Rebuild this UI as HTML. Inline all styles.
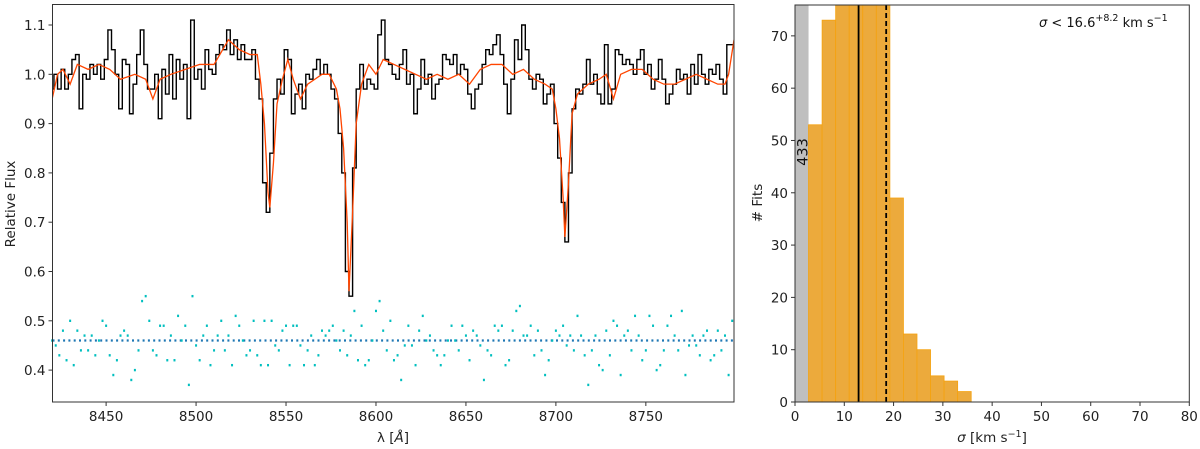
<!DOCTYPE html>
<html><head><meta charset="utf-8"><style>
body{margin:0;background:#fff;}
svg{display:block;font-family:"DejaVu Sans","Liberation Sans",sans-serif;}
</style></head><body>
<svg id="c" width="1200" height="449" viewBox="0 0 1200 449"></svg>
<script>
// ---- spectrum data (2 Å bins from 8420) ----
const specStart = 8420, specStep = 2;
const fluxValues = [0.97,1.0,0.97,1.01,0.97,1.0,1.03,1.04,0.93,1.0,
0.99,1.02,1.0,1.02,0.99,1.03,1.09,1.05,1.0,0.93,
1.03,1.02,0.92,0.98,1.04,1.09,1.02,0.97,0.97,1.0,
0.91,1.01,0.96,1.04,0.95,1.03,0.99,1.02,0.91,1.11,
0.99,1.01,0.97,1.05,1.01,1.0,1.04,1.06,1.05,1.09,
1.04,1.07,1.03,1.06,1.03,1.03,1.05,0.99,0.95,0.78,
0.72,0.84,0.95,0.99,0.96,1.05,1.03,0.92,0.96,0.98,
0.93,1.0,0.99,1.01,1.03,1.0,1.02,1.0,0.97,0.95,
0.88,0.80,0.60,0.55,0.81,0.97,1.02,0.97,0.99,0.98,
0.97,1.08,1.11,1.03,1.02,1.0,0.99,1.02,1.05,0.98,
1.0,0.92,0.97,1.03,0.98,1.0,0.95,0.98,0.99,1.04,
1.03,1.02,1.04,1.0,1.02,1.01,0.96,0.93,0.97,0.98,
1.02,1.05,1.04,1.06,1.08,1.04,0.98,0.92,0.99,1.07,
1.03,1.1,1.05,0.99,0.97,1.0,0.99,0.94,0.96,0.98,
0.90,0.83,0.74,0.66,0.80,0.93,0.97,0.96,0.98,1.03,
0.98,1.0,0.96,0.94,1.06,0.94,0.97,1.05,1.04,1.02,
1.03,1.02,1.0,1.03,1.05,1.0,1.02,0.97,0.99,1.03,
0.99,0.94,0.96,0.98,1.01,0.99,1.0,0.96,1.02,0.98,
1.04,1.0,0.98,1.01,1.0,1.02,0.99,0.96,1.06,1.06];
const modelWave = [8420,8423,8426,8430,8434,8440,8446,8452,8458,8466,8472,8476,8480,8486,8494,8502,8510,8518,8524,8530,8534,8536,8538,8540,8541,8543,8545,8548,8551,8554,8558,8562,8566,8570,8574,8578,8580,8582,8584,8585,8587,8589,8592,8596,8600,8604,8610,8616,8622,8628,8634,8640,8646,8652,8658,8664,8670,8676,8682,8688,8694,8698,8700,8702,8704,8705,8707,8709,8712,8718,8724,8728,8732,8736,8742,8748,8754,8760,8766,8772,8778,8784,8790,8794,8796,8799];
const modelFlux = [0.95,1.0,1.01,0.98,1.02,1.01,1.02,1.01,0.99,1.0,0.99,0.95,0.99,1.0,1.01,1.02,1.02,1.07,1.05,1.04,1.04,0.98,0.9,0.76,0.73,0.82,0.94,0.99,1.03,0.99,0.95,0.98,0.99,1.0,1.0,0.97,0.93,0.85,0.7,0.56,0.72,0.9,0.98,1.02,1.0,1.03,1.02,1.01,1.0,0.99,1.0,0.99,1.0,0.98,1.01,1.02,1.02,1.0,1.01,0.99,0.98,0.97,0.93,0.87,0.75,0.67,0.78,0.92,0.96,0.98,0.99,1.0,0.95,1.0,1.01,1.01,0.99,0.98,0.98,0.99,1.0,0.99,0.98,0.98,1.0,1.07];
const residValues = [0.46,0.45,0.43,0.48,0.42,0.50,0.41,0.48,0.44,0.47,
0.44,0.47,0.43,0.46,0.50,0.49,0.43,0.39,0.42,0.47,
0.48,0.47,0.38,0.40,0.44,0.54,0.55,0.50,0.44,0.43,
0.49,0.49,0.42,0.47,0.42,0.51,0.46,0.49,0.37,0.55,
0.45,0.42,0.47,0.49,0.41,0.44,0.47,0.50,0.44,0.47,
0.41,0.51,0.49,0.46,0.43,0.44,0.50,0.43,0.41,0.50,
0.41,0.50,0.45,0.44,0.48,0.49,0.41,0.49,0.49,0.45,
0.41,0.44,0.47,0.41,0.43,0.48,0.47,0.48,0.49,0.46,
0.44,0.48,0.43,0.47,0.52,0.42,0.49,0.41,0.42,0.46,
0.52,0.54,0.48,0.44,0.50,0.42,0.43,0.38,0.45,0.49,
0.45,0.41,0.48,0.51,0.46,0.47,0.44,0.43,0.41,0.43,
0.46,0.49,0.46,0.44,0.49,0.47,0.42,0.48,0.47,0.45,
0.38,0.44,0.43,0.49,0.48,0.49,0.41,0.42,0.48,0.52,
0.53,0.47,0.47,0.49,0.43,0.48,0.44,0.39,0.42,0.46,
0.48,0.47,0.49,0.45,0.47,0.44,0.51,0.47,0.43,0.37,
0.44,0.47,0.41,0.40,0.48,0.43,0.50,0.49,0.39,0.47,
0.48,0.44,0.51,0.47,0.42,0.44,0.51,0.49,0.40,0.41,
0.44,0.49,0.51,0.47,0.44,0.52,0.39,0.45,0.47,0.45,
0.43,0.47,0.48,0.42,0.43,0.48,0.44,0.47,0.39,0.50];
const residLevel = 0.46;
const specXTicks = [8450,8500,8550,8600,8650,8700,8750];
const specYTicks = [0.4,0.5,0.6,0.7,0.8,0.9,1.0,1.1];
// ---- histogram data ----
const binEdgeStart = 0, binWidth = 2.75;
const grayCount = 433;
const histCounts = [53,73,100,100,100,100,39,13,10,5,4,2];
const medianSigma = 12.9, limitSigma = 18.5;
const histXTicks = [0,10,20,30,40,50,60,70,80];
const histYTicks = [0,10,20,30,40,50,60,70];

const NS="http://www.w3.org/2000/svg";
const svg=document.getElementById('c');
const FS=13.5;
function mk(tag,attrs,parent){const e=document.createElementNS(NS,tag);for(const k in attrs)e.setAttribute(k,attrs[k]);(parent||svg).appendChild(e);return e;}

// ===== Left panel =====
const L={x0:52.5,x1:734,y0:4.5,y1:402};
const sx=w=>L.x0+(w-8420.2)*(L.x1-L.x0)/(8799-8420.2);
const sy=v=>25+(1.1-v)*493;
const gL=mk('g',{});


const clipL=mk('clipPath',{id:'clipL'},gL);mk('rect',{x:L.x0,y:L.y0,width:L.x1-L.x0,height:L.y1-L.y0},clipL);
let d='';
fluxValues.forEach((v,i)=>{const a=sx(specStart+i*specStep-1),b=sx(specStart+i*specStep+1);d+=(i?'L':'M')+a+' '+sy(v)+'L'+b+' '+sy(v);});
const obs=mk('path',{d:d,fill:'none',stroke:'#000','stroke-width':1.4,'clip-path':'url(#clipL)'},gL);


const md=modelWave.map((w,i)=>(i?'L':'M')+sx(w)+' '+sy(modelFlux[i])).join('');
const mod=mk('path',{d:md,fill:'none',stroke:'#ff4500','stroke-width':1.3,'clip-path':'url(#clipL)'},gL);


const rl=mk('line',{x1:L.x0,x2:L.x1,y1:sy(residLevel),y2:sy(residLevel),stroke:'#1f77b4','stroke-width':2.2,'stroke-dasharray':'2,3.3'},gL);


const gR=mk('g',{fill:'#00bfbf'},gL);


residValues.forEach((v,i)=>{const c=mk('rect',{x:sx(specStart+i*specStep)-1,y:sy(v)-1.2,width:2,height:2.4},gR);

});
const fr=mk('rect',{x:L.x0,y:L.y0,width:L.x1-L.x0,height:L.y1-L.y0,fill:'none',stroke:'#333','stroke-width':1},gL);


specXTicks.forEach(t=>{const x=sx(t);mk('line',{x1:x,x2:x,y1:L.y1,y2:L.y1+4,stroke:'#333'},gL);
const tx=mk('text',{x:x,y:L.y1+19,'text-anchor':'middle','font-size':FS,fill:'#222'},gL);tx.textContent=t;

});
specYTicks.forEach(t=>{const y=sy(t);mk('line',{x1:L.x0-4,x2:L.x0,y1:y,y2:y,stroke:'#333'},gL);
const tx=mk('text',{x:L.x0-7,y:y+5,'text-anchor':'end','font-size':FS,fill:'#222'},gL);tx.textContent=t.toFixed(1);

});
const xl=mk('text',{x:393,y:442,'text-anchor':'middle','font-size':FS,fill:'#222'},gL);xl.innerHTML='λ [<tspan font-style="italic">Å</tspan>]';


const yl=mk('text',{x:0,y:0,'text-anchor':'middle','font-size':FS,fill:'#222',transform:'translate(15,204) rotate(-90)'},gL);yl.textContent='Relative Flux';



// ===== Right panel =====
const H={x0:795,x1:1189.3,y0:5,y1:402};
const hx=v=>H.x0+v*(H.x1-H.x0)/80;
const hy=v=>H.y1-v*(H.y1-H.y0)/75.9;
const gH=mk('g',{});


const clipH=mk('clipPath',{id:'clipH'},gH);mk('rect',{x:H.x0,y:H.y0,width:H.x1-H.x0,height:H.y1-H.y0},clipH);
const gb=mk('rect',{x:hx(0),y:H.y0,width:hx(binWidth)-hx(0),height:H.y1-H.y0,fill:'#bfbfbf'},gH);


const gt=mk('text',{x:0,y:0,'text-anchor':'middle','font-size':14.5,fill:'#111',transform:`translate(${hx(binWidth)-1},152) rotate(-90)`},gH);gt.textContent=grayCount;


histCounts.forEach((c,i)=>{const a=binEdgeStart+(i+1)*binWidth;
const r=mk('rect',{x:hx(a),y:hy(c),width:hx(a+binWidth)-hx(a),height:hy(0)-hy(c),fill:'#ecaa3c',stroke:'#f5a20f','stroke-width':0.8,'clip-path':'url(#clipH)'},gH);

});
const ml=mk('line',{x1:hx(medianSigma),x2:hx(medianSigma),y1:H.y0,y2:H.y1,stroke:'#000','stroke-width':1.8},gH);


const ll=mk('line',{x1:hx(limitSigma),x2:hx(limitSigma),y1:H.y0,y2:H.y1,stroke:'#000','stroke-width':1.8,'stroke-dasharray':'5,3'},gH);


const hf=mk('rect',{x:H.x0,y:H.y0,width:H.x1-H.x0,height:H.y1-H.y0,fill:'none',stroke:'#333','stroke-width':1},gH);


histXTicks.forEach(t=>{const x=hx(t);mk('line',{x1:x,x2:x,y1:H.y1,y2:H.y1+4,stroke:'#333'},gH);
const tx=mk('text',{x:x,y:H.y1+19,'text-anchor':'middle','font-size':FS,fill:'#222'},gH);tx.textContent=t;

});
histYTicks.forEach(t=>{const y=hy(t);mk('line',{x1:H.x0-4,x2:H.x0,y1:y,y2:y,stroke:'#333'},gH);
const tx=mk('text',{x:H.x0-7,y:y+5,'text-anchor':'end','font-size':FS,fill:'#222'},gH);tx.textContent=t;

});
const hxl=mk('text',{x:992,y:442,'text-anchor':'middle','font-size':FS,fill:'#222'},gH);hxl.innerHTML='<tspan font-style="italic">σ</tspan> [km s<tspan dy="-5" font-size="9.5">−1</tspan><tspan dy="5">]</tspan>';


const hyl=mk('text',{x:0,y:0,'text-anchor':'middle','font-size':FS,fill:'#222',transform:'translate(762,203) rotate(-90)'},gH);hyl.textContent='# Fits';


const ann=mk('text',{x:1039,y:27,'font-size':13,fill:'#111'},gH);ann.innerHTML='<tspan font-style="italic">σ</tspan> &lt; 16.6<tspan dy="-6" font-size="9.5">+8.2</tspan><tspan dy="6"> km s</tspan><tspan dy="-6" font-size="9.5">−1</tspan>';


</script>
</body></html>
